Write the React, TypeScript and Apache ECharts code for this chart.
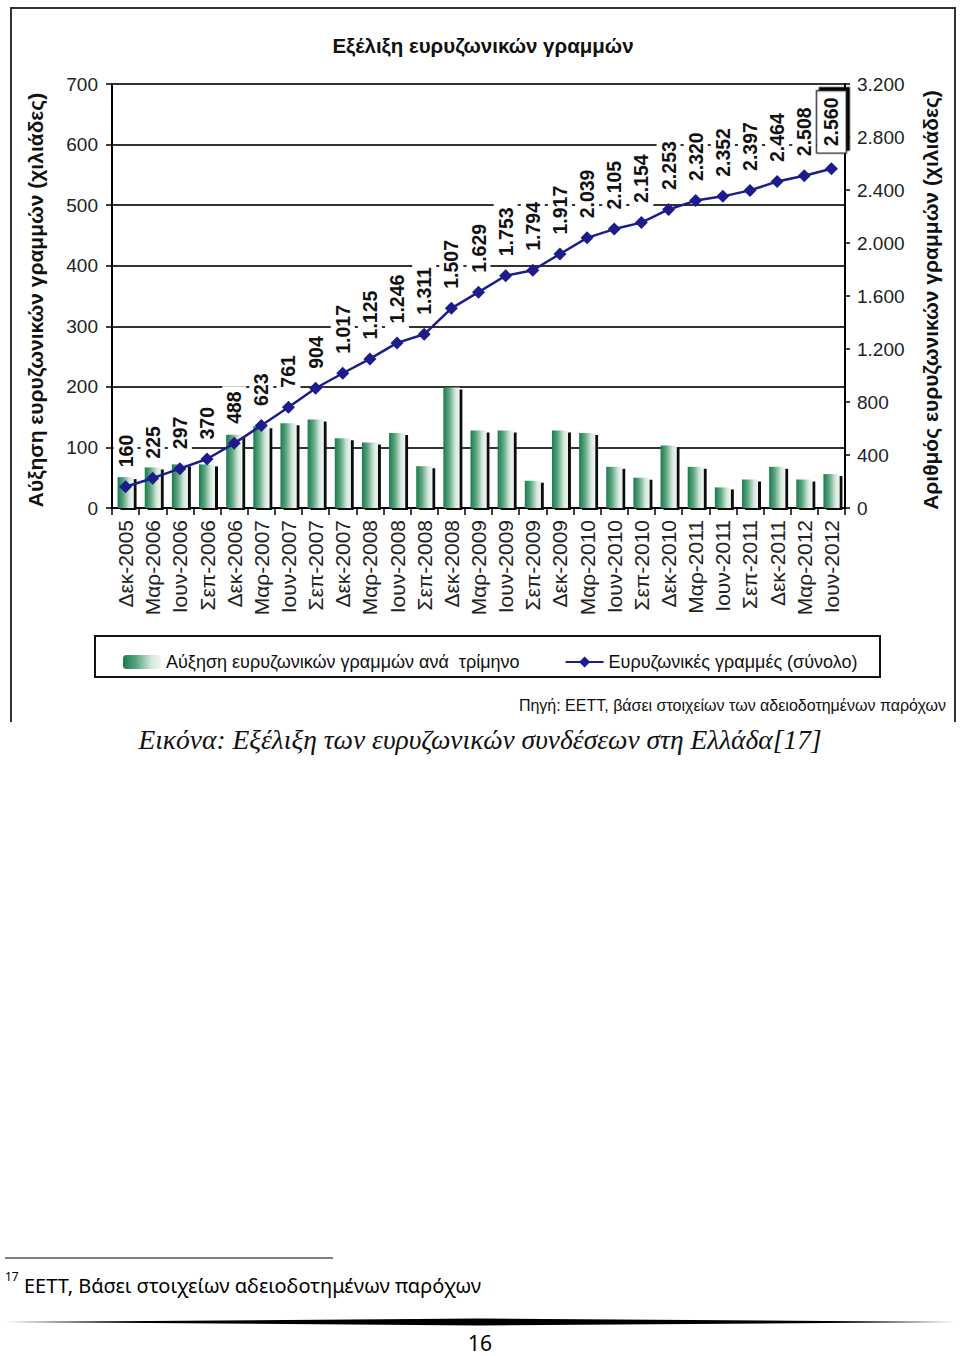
import React, { useEffect, useRef } from "react";
import * as echarts from "echarts";

const categories = [
  "Δεκ-2005", "Μαρ-2006", "Ιουν-2006", "Σεπ-2006", "Δεκ-2006", "Μαρ-2007", "Ιουν-2007",
  "Σεπ-2007", "Δεκ-2007", "Μαρ-2008", "Ιουν-2008", "Σεπ-2008", "Δεκ-2008", "Μαρ-2009",
  "Ιουν-2009", "Σεπ-2009", "Δεκ-2009", "Μαρ-2010", "Ιουν-2010", "Σεπ-2010", "Δεκ-2010",
  "Μαρ-2011", "Ιουν-2011", "Σεπ-2011", "Δεκ-2011", "Μαρ-2012", "Ιουν-2012",
];

const quarterlyIncrease = [
  51, 67, 72, 72, 121, 135, 140, 146, 115, 108, 124, 69, 199, 128,
  128, 45, 128, 124, 68, 50, 103, 68, 34, 47, 68, 47, 56,
];

const totalLines = [
  160, 225, 297, 370, 488, 623, 761, 904, 1017, 1125, 1246, 1311, 1507, 1629,
  1753, 1794, 1917, 2039, 2105, 2154, 2253, 2320, 2352, 2397, 2464, 2508, 2560,
];

const leftTicks = { min: 0, max: 700, interval: 100 };
const rightTicks = { min: 0, max: 3200, interval: 400 };

const SANS = "'Liberation Sans', Arial, sans-serif";
const SERIF = "'Liberation Serif', 'Times New Roman', serif";
const BODY = "'Noto Sans', 'Open Sans', sans-serif";

const fmt = (v: number) =>
  v >= 1000 ? Math.floor(v / 1000) + "." + String(v % 1000).padStart(3, "0") : String(v);

export default function App() {
  const ref = useRef<HTMLDivElement>(null);

  useEffect(() => {
    if (!ref.current) return;
    const chart = echarts.init(ref.current, undefined, { renderer: "svg" });

    const barGradient = new echarts.graphic.LinearGradient(0, 0, 1, 0, [
      { offset: 0, color: "#1b7a4e" },
      { offset: 0.35, color: "#5aa57f" },
      { offset: 0.75, color: "#d6e8dc" },
      { offset: 1, color: "#f1f5f2" },
    ]);

    const labelBase = {
      show: true,
      position: "top",
      rotate: 90,
      align: "left",
      verticalAlign: "middle",
      distance: 8,
      fontFamily: SANS,
      fontWeight: "bold",
      fontSize: 19.5,
      color: "#111",
      backgroundColor: "#fff",
      padding: [2, 5],
      formatter: (p: any) => fmt(p.value),
    };

    const lineData = totalLines.map((v, i) =>
      i === totalLines.length - 1
        ? {
            value: v,
            label: {
              borderColor: "#222",
              borderWidth: 1.5,
              padding: [4, 6],
              shadowColor: "#000",
              shadowOffsetX: 3,
              shadowOffsetY: 3,
              shadowBlur: 0,
              distance: 10,
            },
          }
        : v
    );

    chart.setOption({
      animation: false,
      backgroundColor: "#fff",
      grid: { left: 112, right: 115, top: 84, bottom: 848, containLabel: false },
      xAxis: {
        type: "category",
        data: categories,
        boundaryGap: true,
        axisLine: { lineStyle: { color: "#000", width: 2 } },
        axisTick: { show: true, length: 7, lineStyle: { color: "#000", width: 1.5 }, interval: 0 },
        axisLabel: {
          interval: 0,
          rotate: 90,
          margin: 12,
          fontFamily: SANS,
          fontSize: 21,
          color: "#222",
        },
      },
      yAxis: [
        {
          type: "value",
          ...leftTicks,
          position: "left",
          axisLine: { show: true, lineStyle: { color: "#000", width: 2 } },
          axisTick: { show: true, length: 6, lineStyle: { color: "#000", width: 1.5 } },
          axisLabel: { margin: 14, fontFamily: SANS, fontSize: 19, color: "#222" },
          splitLine: { show: true, lineStyle: { color: "#333", width: 2 } },
        },
        {
          type: "value",
          ...rightTicks,
          position: "right",
          axisLine: { show: true, lineStyle: { color: "#000", width: 2 } },
          axisTick: { show: true, length: 5, lineStyle: { color: "#000", width: 1.5 } },
          axisLabel: {
            margin: 12,
            fontFamily: SANS,
            fontSize: 19,
            color: "#222",
            formatter: (v: number) => fmt(v),
          },
          splitLine: { show: false },
        },
      ],
      legend: {
        left: 118,
        top: 648,
        itemWidth: 38,
        itemHeight: 14,
        itemGap: 45,
        textStyle: { fontFamily: SANS, fontSize: 18, color: "#111" },
        data: ["Αύξηση ευρυζωνικών γραμμών ανά  τρίμηνο", "Ευρυζωνικές γραμμές (σύνολο)"],
      },
      series: [
        {
          name: "Αύξηση ευρυζωνικών γραμμών ανά  τρίμηνο",
          type: "bar",
          yAxisIndex: 0,
          data: quarterlyIncrease,
          barWidth: 16,
          itemStyle: {
            color: barGradient,
            shadowColor: "#111",
            shadowOffsetX: 3,
            shadowOffsetY: 2,
            shadowBlur: 0,
          },
        },
        {
          name: "Ευρυζωνικές γραμμές (σύνολο)",
          type: "line",
          yAxisIndex: 1,
          data: lineData,
          symbol: "diamond",
          symbolSize: 13,
          lineStyle: { color: "#1c1c8c", width: 2.5 },
          itemStyle: { color: "#1c1c8c" },
          label: labelBase,
          z: 5,
        },
      ],
      graphic: [
        {
          type: "polyline",
          shape: { points: [[11, 722], [11, 8], [955, 8], [955, 722]] },
          style: { stroke: "#333", lineWidth: 2, fill: null },
        },
        {
          type: "text",
          x: 483,
          y: 45,
          style: {
            text: "Εξέλιξη ευρυζωνικών γραμμών",
            fontFamily: SANS,
            fontWeight: "bold",
            fontSize: 20.5,
            fill: "#111",
            align: "center",
            verticalAlign: "middle",
          },
        },
        {
          type: "text",
          x: 35,
          y: 300,
          rotation: Math.PI / 2,
          style: {
            text: "Αύξηση ευρυζωνικών γραμμών (χιλιάδες)",
            fontFamily: SANS,
            fontWeight: "bold",
            fontSize: 21,
            fill: "#111",
            align: "center",
            verticalAlign: "middle",
          },
        },
        {
          type: "text",
          x: 930,
          y: 300,
          rotation: Math.PI / 2,
          style: {
            text: "Αριθμός ευρυζωνικών γραμμών (χιλιάδες)",
            fontFamily: SANS,
            fontWeight: "bold",
            fontSize: 21,
            fill: "#111",
            align: "center",
            verticalAlign: "middle",
          },
        },
        {
          type: "rect",
          shape: { x: 95, y: 636, width: 785, height: 41 },
          style: {
            stroke: "#111",
            lineWidth: 2,
            fill: null,
          },
        },
        {
          type: "text",
          x: 946,
          y: 705,
          style: {
            text: "Πηγή: ΕΕΤΤ, βάσει στοιχείων των αδειοδοτημένων παρόχων",
            fontFamily: SANS,
            fontSize: 16,
            fill: "#111",
            align: "right",
            verticalAlign: "middle",
          },
        },
        {
          type: "text",
          x: 480,
          y: 739,
          style: {
            text: "Εικόνα: Εξέλιξη των ευρυζωνικών συνδέσεων στη Ελλάδα[17]",
            fontFamily: SERIF,
            fontStyle: "italic",
            fontSize: 27.5,
            fill: "#111",
            align: "center",
            verticalAlign: "middle",
          },
        },
        {
          type: "line",
          shape: { x1: 5, y1: 1258, x2: 333, y2: 1258 },
          style: { stroke: "#000", lineWidth: 1 },
        },
        {
          type: "text",
          x: 5,
          y: 1276,
          style: {
            text: "17",
            fontFamily: BODY,
            fontSize: 12,
            fill: "#000",
            align: "left",
            verticalAlign: "middle",
          },
        },
        {
          type: "text",
          x: 24,
          y: 1285,
          style: {
            text: "ΕΕΤΤ, Βάσει στοιχείων αδειοδοτημένων παρόχων",
            fontFamily: BODY,
            fontSize: 20,
            fill: "#000",
            align: "left",
            verticalAlign: "middle",
          },
        },
        {
          type: "polygon",
          shape: { points: [[5, 1322], [480, 1318.5], [955, 1322], [480, 1325.5]] },
          style: { fill: "#000" },
        },
        {
          type: "text",
          x: 480,
          y: 1343,
          style: {
            text: "16",
            fontFamily: BODY,
            fontSize: 21,
            fill: "#000",
            align: "center",
            verticalAlign: "middle",
          },
        },
      ],
    });

    return () => chart.dispose();
  }, []);

  return (
    <div
      ref={ref}
      style={{ position: "absolute", left: 0, top: 0, width: 960, height: 1356 }}
    />
  );
}
